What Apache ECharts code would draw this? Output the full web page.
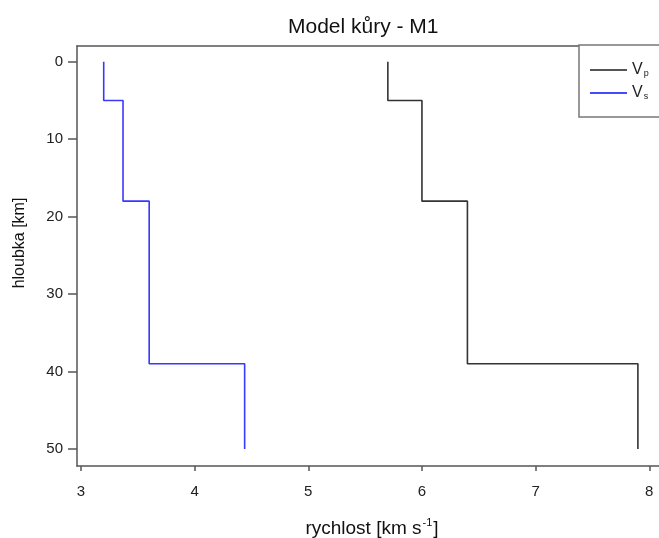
<!DOCTYPE html>
<html>
<head>
<meta charset="utf-8">
<script src="https://cdn.jsdelivr.net/npm/echarts@6/dist/echarts.min.js"></script>
<style>
html,body{margin:0;padding:0;background:#fff;}
#chart{width:659px;height:538px;}
</style>
</head>
<body>
<div id="chart"></div>
<script>
// Data
var depths = [0, 5, 18, 39, 50];          // layer boundaries [km]
var vp = [5.7, 6.0, 6.4, 7.9];            // P-wave velocity per layer [km/s]
var vs = [3.20, 3.37, 3.60, 4.44];        // S-wave velocity per layer [km/s]
var xTicks = [3, 4, 5, 6, 7, 8];
var yTicks = [0, 10, 20, 30, 40, 50];
var seriesNames = ['Vp', 'Vs'];

function stepPoints(v, d) {
  var pts = [];
  for (var i = 0; i < v.length; i++) {
    pts.push([v[i], d[i]]);
    pts.push([v[i], d[i + 1]]);
  }
  return pts;
}

var FONT = 'Liberation Sans, Arial, sans-serif';
var AX = '#555';

var chart = echarts.init(document.getElementById('chart'), null, {renderer: 'canvas'});
chart.setOption({
  animation: false,
  backgroundColor: '#fff',
  title: {
    text: 'Model kůry - M1',
    left: 288, top: 17, padding: 0,
    textStyle: {fontFamily: FONT, fontSize: 21, fontWeight: 'normal', color: '#111'}
  },
  grid: {left: 77, top: 46, width: 595, height: 420, outerBoundsMode: 'none', containLabel: false},
  xAxis: [{
    type: 'value', position: 'bottom',
    min: 2.965, max: 8.2,
    axisLine: {show: true, onZero: false, lineStyle: {color: AX, width: 1.5}},
    axisTick: {show: true, customValues: xTicks, length: 5, lineStyle: {color: AX, width: 1.5}},
    axisLabel: {customValues: xTicks, margin: 18, fontFamily: FONT, fontSize: 15, color: '#222'},
    splitLine: {show: false}
  }, {
    type: 'value', position: 'top',
    min: 2.965, max: 8.2,
    axisLine: {show: true, onZero: false, lineStyle: {color: AX, width: 1.5}},
    axisTick: {show: false}, axisLabel: {show: false}, splitLine: {show: false}
  }],
  yAxis: {
    type: 'value', inverse: true,
    min: -2.03, max: 52.2,
    axisLine: {show: true, onZero: false, lineStyle: {color: AX, width: 1.5}},
    axisTick: {show: true, customValues: yTicks, length: 9, lineStyle: {color: AX, width: 1.5}},
    axisLabel: {customValues: yTicks, margin: 14, fontFamily: FONT, fontSize: 15, color: '#222'},
    splitLine: {show: false}
  },
  legend: {
    orient: 'vertical',
    left: 579, top: 45,
    padding: [17, 40, 16, 11],
    itemWidth: 37, itemHeight: 2, itemGap: 7,
    icon: 'rect',
    backgroundColor: '#fff',
    borderColor: '#777', borderWidth: 1.5, borderRadius: 0,
    data: seriesNames,
    formatter: function (n) { return '{v|V}{s|' + n.slice(1) + '}'; },
    textStyle: {
      fontFamily: FONT, color: '#222',
      rich: {
        v: {fontSize: 16, lineHeight: 16, fontFamily: FONT, color: '#222'},
        s: {fontSize: 9, lineHeight: 16, verticalAlign: 'bottom', fontFamily: FONT, color: '#222', padding: [0, 0, 0, 1]}
      }
    }
  },
  graphic: [{
    type: 'text',
    x: 20, y: 243, rotation: Math.PI / 2,
    style: {text: 'hloubka [km]', font: '16px ' + FONT, fill: '#111', textAlign: 'center', textVerticalAlign: 'middle'}
  }, {
    type: 'text',
    x: 372, y: 527,
    style: {
      text: '{a|rychlost [km s}{b|-1}{a|]}',
      textAlign: 'center', textVerticalAlign: 'middle',
      rich: {
        a: {fontSize: 19, fontFamily: FONT, fill: '#111', lineHeight: 22, verticalAlign: 'bottom'},
        b: {fontSize: 11, fontFamily: FONT, fill: '#111', lineHeight: 22, verticalAlign: 'top', padding: [1, 1, 0, 1]}
      }
    }
  }],
  series: [{
    name: 'Vp', type: 'line', symbol: 'none',
    data: stepPoints(vp, depths),
    lineStyle: {color: '#333', width: 1.6},
    itemStyle: {color: '#555'}
  }, {
    name: 'Vs', type: 'line', symbol: 'none',
    data: stepPoints(vs, depths),
    lineStyle: {color: '#3838ff', width: 1.6},
    itemStyle: {color: '#4848ff'}
  }]
});
</script>
</body>
</html>
